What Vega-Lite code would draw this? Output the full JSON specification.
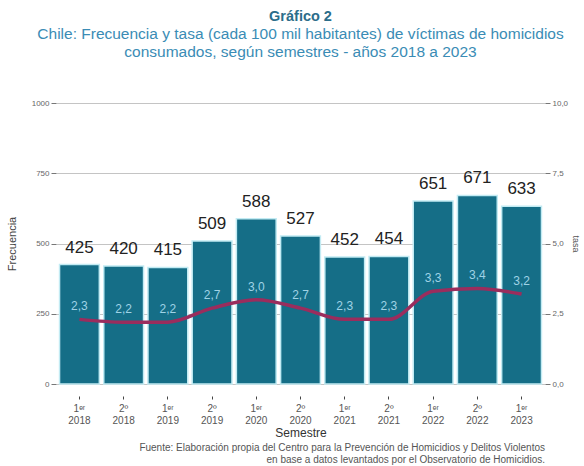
{
  "$schema": "https://vega.github.io/schema/vega-lite/v6.json",
  "background": "white",
  "padding": {"left": 6, "top": 8, "right": 4, "bottom": 2},
  "config": {
    "font": "Liberation Sans",
    "view": {"stroke": null},
    "locale": {"number": {"decimal": ",", "thousands": ".", "grouping": [3], "currency": ["$", ""]}}
  },
  "title": {
    "text": "Gráfico 2",
    "subtitle": ["Chile: Frecuencia y tasa (cada 100 mil habitantes) de víctimas de homicidios", "consumados, según semestres - años 2018 a 2023"],
    "fontSize": 14.5,
    "fontWeight": "bold",
    "color": "#2b6d8a",
    "subtitleFontSize": 15.5,
    "subtitleColor": "#3a8cb5",
    "subtitlePadding": 3,
    "anchor": "middle",
    "frame": "group",
    "offset": 38
  },
  "vconcat": [
    {
      "width": 489,
      "height": 281,
      "title": {
        "text": ["Fuente: Elaboración propia del Centro para la Prevención de Homicidios y Delitos Violentos", "en base a datos levantados por el Observatorio de Homicidios."],
        "orient": "bottom",
        "anchor": "end",
        "align": "right",
        "frame": "group",
        "fontSize": 10,
        "fontWeight": "normal",
        "color": "#555555",
        "offset": 5,
        "lineHeight": 11.5
      },
      "data": {
        "values": [
          {"semestre": "1ᵉʳ|2018", "frecuencia": 425, "tasa": 2.3},
          {"semestre": "2º|2018", "frecuencia": 420, "tasa": 2.2},
          {"semestre": "1ᵉʳ|2019", "frecuencia": 415, "tasa": 2.2},
          {"semestre": "2º|2019", "frecuencia": 509, "tasa": 2.7},
          {"semestre": "1ᵉʳ|2020", "frecuencia": 588, "tasa": 3.0},
          {"semestre": "2º|2020", "frecuencia": 527, "tasa": 2.7},
          {"semestre": "1ᵉʳ|2021", "frecuencia": 452, "tasa": 2.3},
          {"semestre": "2º|2021", "frecuencia": 454, "tasa": 2.3},
          {"semestre": "1ᵉʳ|2022", "frecuencia": 651, "tasa": 3.3},
          {"semestre": "2º|2022", "frecuencia": 671, "tasa": 3.4},
          {"semestre": "1ᵉʳ|2023", "frecuencia": 633, "tasa": 3.2}
        ]
      },
      "encoding": {
        "x": {
          "field": "semestre",
          "type": "nominal",
          "sort": null,
          "scale": {"paddingInner": 0.1, "paddingOuter": 0.08},
          "axis": {
            "title": "Semestre",
            "labelExpr": "split(datum.label, '|')",
            "labelAngle": 0,
            "domain": false,
            "ticks": true,
            "tickSize": 3,
            "tickColor": "#444444",
            "offset": 12,
            "labelPadding": 4,
            "labelFontSize": 10,
            "labelColor": "#555555",
            "labelLineHeight": 12,
            "titleFontSize": 12,
            "titleFontWeight": "normal",
            "titleColor": "#333333",
            "titlePadding": 2
          }
        }
      },
      "layer": [
        {
          "encoding": {
            "y": {
              "field": "frecuencia",
              "type": "quantitative",
              "scale": {"domain": [0, 1000]},
              "axis": {
                "title": "Frecuencia",
                "values": [0, 250, 500, 750, 1000],
                "format": "d",
                "domain": false,
                "tickSize": 5,
                "tickColor": "#777777",
                "labelFontSize": 8,
                "labelColor": "#666666",
                "labelPadding": 2,
                "grid": true,
                "gridColor": "#c4c4c4",
                "titleFontSize": 11,
                "titleFontWeight": "normal",
                "titleColor": "#444444",
                "titlePadding": 14
              }
            }
          },
          "layer": [
            {"mark": {"type": "bar", "color": "#156e87", "stroke": "#c2ebf3", "strokeWidth": 1.5}},
            {
              "mark": {"type": "text", "dy": -8, "baseline": "bottom", "fontSize": 17, "color": "#222222"},
              "encoding": {"text": {"field": "frecuencia", "type": "quantitative"}}
            }
          ]
        },
        {
          "encoding": {
            "y": {
              "field": "tasa",
              "type": "quantitative",
              "scale": {"domain": [0, 10]},
              "axis": {
                "orient": "right",
                "title": "tasa",
                "values": [0, 2.5, 5, 7.5, 10],
                "format": ".1f",
                "domain": false,
                "grid": false,
                "tickSize": 5,
                "tickColor": "#777777",
                "labelFontSize": 8,
                "labelColor": "#666666",
                "labelPadding": 2,
                "titleFontSize": 9,
                "titleFontWeight": "normal",
                "titleColor": "#555555",
                "titlePadding": 3
              }
            }
          },
          "layer": [
            {"mark": {"type": "line", "interpolate": "monotone", "color": "#9a2d5d", "strokeWidth": 3.5}},
            {
              "mark": {"type": "text", "dy": -13, "fontSize": 12, "color": "#9fd3e6"},
              "encoding": {"text": {"field": "tasa", "type": "quantitative", "format": ".1f"}}
            }
          ]
        }
      ],
      "resolve": {"scale": {"y": "independent"}}
    }
  ]
}
